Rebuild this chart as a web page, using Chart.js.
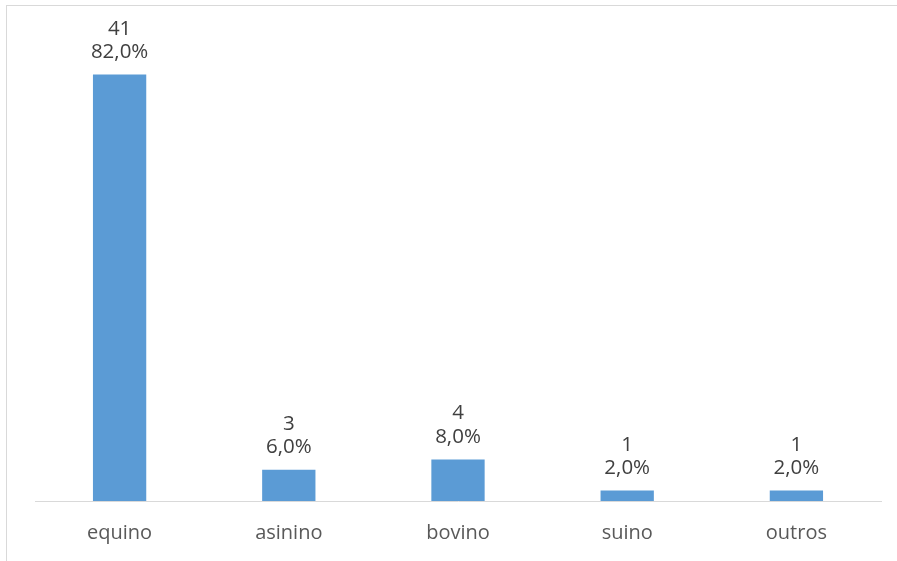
<!DOCTYPE html>
<html>
<head>
<meta charset="utf-8">
<script src="https://cdn.jsdelivr.net/npm/chart.js@4.4.0/dist/chart.umd.min.js"></script>
<style>
    html, body { margin: 0; padding: 0; background: #ffffff; overflow: hidden; }
    #frame { position: absolute; left: 6px; top: 5px; width: 1000px; height: 1000px; border: 1px solid #d9d9d9; }
    #wrap { position: absolute; left: 0; top: 0; width: 897px; height: 561px; }
</style>
</head>
<body>
<div id="frame"></div>
<div id="wrap"><canvas id="animalChart" width="897" height="561"></canvas></div>
<script>
// Chart data
const categories = ['equino', 'asinino', 'bovino', 'suino', 'outros'];
const counts = [41, 3, 4, 1, 1];
const percentLabels = ['82,0%', '6,0%', '8,0%', '2,0%', '2,0%'];

/**
 * Draw count and percent above each bar
 */
const barLabelsPlugin = {
    id: 'barLabels',
    afterDatasetsDraw: function(chart) {
        const ctx = chart.ctx;
        const meta = chart.getDatasetMeta(0);
        ctx.save();
        ctx.font = '20.5px "Open Sans"';
        ctx.fillStyle = '#404040';
        ctx.textAlign = 'center';
        ctx.textBaseline = 'alphabetic';
        meta.data.forEach(function(bar, i) {
            const props = bar.getProps(['x', 'y'], true);
            ctx.fillText(String(counts[i]), props.x, props.y - 40);
            ctx.fillText(percentLabels[i], props.x, props.y - 16.5);
        });
        ctx.restore();
    }
};

let animalChart = null;

function renderAnimalChart() {
    const ctx = document.getElementById('animalChart').getContext('2d');

    animalChart = new Chart(ctx, {
        type: 'bar',
        data: {
            labels: categories,
            datasets: [{
                data: counts,
                backgroundColor: '#5b9bd5',
                borderWidth: 0,
                categoryPercentage: 1,
                barPercentage: 0.315
            }]
        },
        options: {
            responsive: false,
            animation: false,
            layout: {
                padding: { left: 35, right: 16, top: 33, bottom: 0 }
            },
            plugins: {
                legend: { display: false },
                tooltip: { enabled: false }
            },
            scales: {
                y: {
                    display: false,
                    min: 0,
                    max: 45
                },
                x: {
                    grid: { display: false, drawTicks: false },
                    border: { display: true, color: '#d9d9d9', width: 1 },
                    ticks: {
                        color: '#595959',
                        font: { family: 'Open Sans', size: 20 },
                        padding: 20
                    },
                    afterFit: function(axis) {
                        axis.height = 60;
                    }
                }
            }
        },
        plugins: [barLabelsPlugin]
    });
}

renderAnimalChart();
</script>
</body>
</html>
